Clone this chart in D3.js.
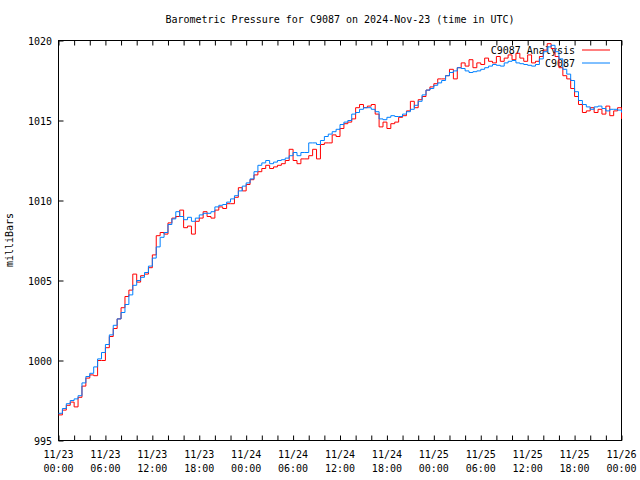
<!DOCTYPE html>
<html><head><meta charset="utf-8">
<script src="https://cdn.jsdelivr.net/npm/d3@7"></script>
<style>
body{margin:0;background:#fff;}
text{font-family:"DejaVu Sans Mono",monospace;font-size:10px;fill:#000;}
</style></head>
<body><svg id="c" width="640" height="480"></svg>
<script>
const title = "Barometric Pressure for C9087 on 2024-Nov-23 (time in UTC)";
const yLabel = "milliBars";
const seriesNames = ["C9087 Analysis", "C9087"];
const seriesColors = ["#ff0000", "#0080ff"];
const yTicks = [995, 1000, 1005, 1010, 1015, 1020];
const xTickHours = [0, 6, 12, 18, 24, 30, 36, 42, 48, 54, 60, 66, 72];
const xTickLabels = [["11/23","00:00"],["11/23","06:00"],["11/23","12:00"],["11/23","18:00"],
  ["11/24","00:00"],["11/24","06:00"],["11/24","12:00"],["11/24","18:00"],
  ["11/25","00:00"],["11/25","06:00"],["11/25","12:00"],["11/25","18:00"],["11/26","00:00"]];
// hours since 2024-11-23 00:00 UTC, half-hour steps
const hours = d3.range(0, 72.01, 0.5);
const analysis = [
 996.6,996.9,997.2,997.4,997.1,997.7,998.4,998.9,999.1,999.05,1000.0,1000.0,
 1000.8,1001.5,1002.0,1002.6,1003.3,1004.0,1004.4,1005.4,1004.9,1005.3,1005.4,1005.8,
 1006.6,1007.8,1008.0,1007.9,1008.6,1008.9,1009.0,1009.4,1008.3,1008.4,1007.9,1008.7,
 1008.9,1009.3,1009.0,1008.9,1009.4,1009.6,1009.5,1009.8,1009.8,1010.2,1010.8,1010.6,
 1011.0,1011.3,1011.6,1011.8,1012.0,1012.2,1012.0,1012.1,1012.2,1012.3,1012.5,1013.2,
 1012.5,1012.3,1012.6,1012.6,1012.8,1013.2,1012.6,1013.5,1013.6,1013.6,1014.1,1014.0,
 1014.5,1014.8,1014.9,1015.1,1015.8,1016.0,1015.8,1015.9,1016.0,1015.4,1014.6,1014.9,
 1014.5,1014.8,1014.9,1015.2,1015.3,1015.6,1016.2,1015.8,1016.3,1016.5,1016.9,1017.1,
 1017.3,1017.6,1017.6,1017.8,1018.2,1017.6,1018.3,1018.6,1018.4,1018.8,1018.3,1018.6,
 1018.5,1018.9,1018.7,1018.6,1019.0,1018.7,1018.9,1019.1,1018.8,1019.2,1018.9,1018.7,
 1019.1,1018.6,1018.7,1019.0,1019.4,1019.8,1019.5,1019.0,1018.3,1017.8,1017.6,1017.0,
 1016.5,1016.0,1015.5,1015.6,1015.8,1015.5,1015.7,1015.4,1015.9,1015.3,1015.6,1015.8,1015.1];
const station = [
 996.7,997.0,997.3,997.5,997.6,997.8,998.6,999.0,999.2,999.6,1000.1,1000.5,
 1001.0,1001.6,1002.2,1002.6,1003.0,1003.5,1004.1,1004.7,1005.0,1005.2,1005.5,1005.9,
 1006.4,1007.1,1007.7,1008.0,1008.5,1008.85,1009.3,1009.0,1008.8,1008.95,1008.7,1008.9,
 1009.1,1009.2,1009.2,1009.3,1009.6,1009.7,1009.75,1009.9,1010.1,1010.3,1010.6,1010.9,
 1011.1,1011.35,1011.8,1012.2,1012.35,1012.5,1012.3,1012.4,1012.5,1012.55,1012.65,1012.8,
 1013.0,1012.8,1013.0,1013.0,1013.6,1013.6,1013.5,1013.75,1014.0,1014.15,1014.3,1014.45,
 1014.75,1014.9,1015.0,1015.4,1015.5,1015.7,1015.8,1015.8,1015.7,1015.55,1015.1,1015.05,
 1015.2,1015.3,1015.25,1015.25,1015.4,1015.55,1015.7,1015.95,1016.2,1016.6,1016.9,1017.0,
 1017.2,1017.35,1017.5,1017.8,1018.0,1018.1,1018.3,1018.25,1018.1,1018.0,1018.05,1018.1,
 1018.2,1018.3,1018.4,1018.5,1018.45,1018.4,1018.6,1018.7,1018.75,1018.6,1018.55,1018.5,
 1018.45,1018.4,1018.5,1018.85,1019.3,1019.6,1019.7,1019.3,1018.85,1018.2,1017.9,1017.5,
 1016.8,1016.25,1016.0,1015.85,1015.7,1015.85,1015.9,1015.75,1015.6,1015.7,1015.7,1015.65,1015.5];

const svg = d3.select("#c");
const L = 58.5, R = 621.5, T = 40.5, B = 440.5;
const x = d3.scaleLinear().domain([0, 72]).range([L, R]);
const y = d3.scaleLinear().domain([995, 1020]).range([B, T]);

svg.append("text").attr("x", 340).attr("y", 23).attr("text-anchor", "middle").text(title);
svg.append("text").attr("transform", "translate(13,240) rotate(-90)").attr("text-anchor", "middle").text(yLabel);

// axes
const minorHours = d3.range(0, 72.01, 2);
const gb = svg.append("g").attr("transform", `translate(0,${B})`)
  .call(d3.axisBottom(x).tickValues(minorHours).tickSize(-5).tickFormat(""));
const gt = svg.append("g").attr("transform", `translate(0,${T})`)
  .call(d3.axisTop(x).tickValues(minorHours).tickSize(-5).tickFormat(""));
const gl = svg.append("g").attr("transform", `translate(${L},0)`)
  .call(d3.axisLeft(y).tickValues(yTicks).tickSize(-5).tickFormat(""));
[gb, gt, gl].forEach(g => { g.select(".domain").remove(); g.selectAll("line").attr("stroke", "#000"); });

svg.selectAll(".ylab").data(yTicks).enter().append("text")
  .attr("x", 52).attr("y", d => y(d) + 4).attr("text-anchor", "end").text(d => d);
const xl = svg.selectAll(".xlab").data(xTickHours).enter().append("text")
  .attr("text-anchor", "middle").attr("x", d => x(d));
xl.append("tspan").attr("x", d => x(d)).attr("y", 458).text((d, i) => xTickLabels[i][0]);
xl.append("tspan").attr("x", d => x(d)).attr("y", 472).text((d, i) => xTickLabels[i][1]);

svg.append("rect").attr("x", L).attr("y", T).attr("width", R - L).attr("height", B - T)
  .attr("fill", "none").attr("stroke", "#000");

// legend
seriesNames.forEach((n, i) => {
  const ly = 50 + i * 13;
  svg.append("text").attr("x", 575).attr("y", ly + 4).attr("text-anchor", "end").text(n);
  svg.append("line").attr("x1", 582).attr("x2", 610).attr("y1", ly).attr("y2", ly)
    .attr("stroke", seriesColors[i]).attr("stroke-width", 1);
});

const line = d3.line().x(d => x(d[0])).y(d => y(d[1])).curve(d3.curveStepAfter);
[analysis, station].forEach((s, i) => {
  svg.append("path").datum(hours.map((h, j) => [h, s[j]]))
    .attr("d", line).attr("fill", "none").attr("stroke", seriesColors[i]).attr("stroke-width", 1);
});
</script></body></html>
